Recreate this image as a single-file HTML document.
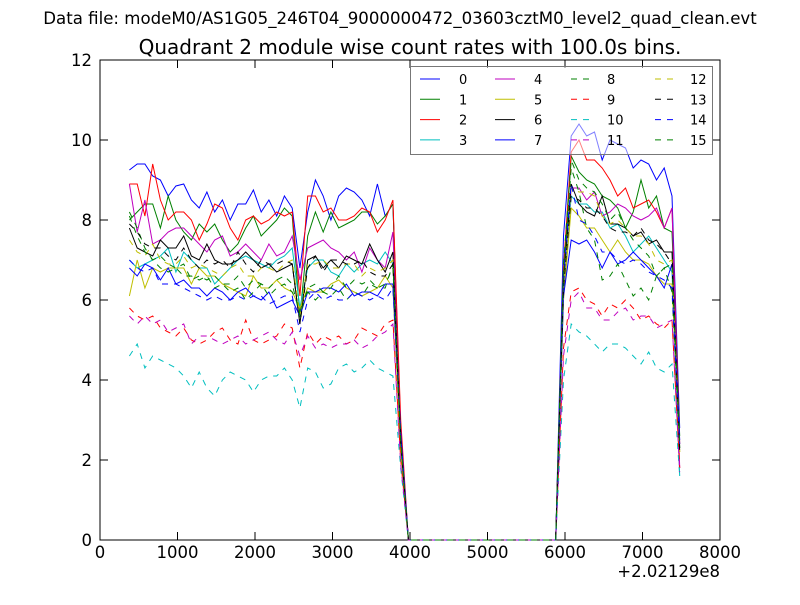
<!DOCTYPE html>
<html><head><meta charset="utf-8"><style>
body{margin:0;background:#fff;}
svg text{font-family:"DejaVu Sans","Liberation Sans",sans-serif;}
</style></head><body>
<svg id="chart" width="800" height="600" xmlns="http://www.w3.org/2000/svg">
<rect width="800" height="600" fill="#fff"/>
<text x="400" y="24" text-anchor="middle" font-size="16.6">Data file: modeM0/AS1G05_246T04_9000000472_03603cztM0_level2_quad_clean.evt</text>
<text x="410" y="54" text-anchor="middle" font-size="20">Quadrant 2 module wise count rates with 100.0s bins.</text>
<rect x="100" y="60" width="620" height="480" fill="none" stroke="#000" stroke-width="1"/>
<g id="series"></g>
<g id="axes"></g>
<g id="legend"></g>
</svg>
<script>
const xTicks=[0,1000,2000,3000,4000,5000,6000,7000,8000];
const yTicks=[0,2,4,6,8,10,12];
const seg1Start=380, seg2Start=6080, binSize=100;
const s1=[
[9.25,9.4,9.4,9.1,9.0,8.6,8.85,8.9,8.5,8.3,8.7,8.2,8.5,8.0,8.4,8.4,8.75,8.2,8.5,8.1,8.6,8.3,6.8,8.2,9.0,8.6,8.0,8.6,8.8,8.7,8.5,8.1,8.9,8.1,8.4],
[8.0,8.2,8.4,8.4,7.8,8.6,8.0,7.7,7.5,7.9,7.7,7.9,7.5,7.2,7.4,7.8,8.1,7.6,7.8,8.0,8.3,8.1,5.6,7.6,8.2,7.7,8.2,7.8,7.9,8.0,8.2,8.2,7.9,8.1,8.4],
[8.9,8.9,8.1,9.4,8.5,8.0,8.2,8.2,8.0,7.5,7.9,8.4,8.3,7.8,7.5,8.0,8.1,7.9,8.0,8.2,8.1,8.2,6.1,8.6,8.6,8.2,8.3,8.0,8.0,8.1,8.3,8.2,7.7,8.0,8.5],
[7.0,6.8,6.9,7.0,7.1,7.3,6.7,7.2,7.0,6.8,6.8,6.4,6.6,6.8,7.0,7.1,7.0,6.9,6.8,7.0,7.1,7.3,5.8,6.8,7.0,7.0,6.7,6.6,6.9,6.7,6.9,7.0,6.9,7.2,6.9],
[8.9,7.7,8.5,7.4,7.5,7.7,7.8,7.8,7.6,7.4,7.2,7.5,7.6,7.1,7.2,7.4,7.2,7.0,7.4,7.1,7.2,7.6,6.5,7.3,7.4,7.5,7.3,7.2,7.0,7.2,6.7,7.3,7.0,6.8,7.7],
[6.1,7.0,6.3,6.8,6.7,6.8,6.8,6.8,6.4,6.8,6.6,6.6,6.4,6.3,6.2,6.1,6.6,6.3,6.3,6.5,6.3,6.2,5.8,6.3,6.2,6.2,6.4,6.5,6.3,6.2,6.1,6.2,6.3,6.6,6.3],
[7.8,7.3,7.2,7.1,7.5,7.3,7.3,7.6,7.1,7.0,7.4,7.0,6.9,6.9,7.0,7.2,7.0,6.8,6.9,6.7,6.8,6.9,5.4,7.0,7.1,6.8,7.0,6.8,7.1,7.0,6.9,7.4,7.0,6.7,7.2],
[6.8,6.6,6.9,6.8,6.5,6.8,6.4,6.5,6.3,6.3,6.1,6.3,6.2,6.0,6.2,6.3,6.1,6.0,6.2,5.8,5.9,6.0,5.6,6.2,6.2,6.3,6.3,6.2,6.4,6.1,6.2,6.2,6.1,6.4,6.4],
[8.2,7.8,7.3,7.0,6.8,6.7,6.8,6.6,6.6,6.5,6.6,6.3,6.4,6.2,6.3,6.0,6.2,6.4,6.1,6.3,6.4,6.2,5.8,6.2,6.0,6.2,6.1,6.3,6.0,6.2,6.1,6.4,6.3,6.3,6.9],
[5.8,5.6,5.5,5.6,5.3,5.2,5.1,5.3,5.0,4.9,5.0,5.2,5.3,5.0,4.9,5.5,5.0,4.9,5.0,5.1,5.4,5.3,4.3,5.2,4.9,5.1,5.0,5.1,4.9,5.0,5.3,5.2,5.1,5.4,5.5],
[4.6,4.9,4.3,4.6,4.5,4.4,4.3,4.1,3.8,4.2,3.8,3.6,4.0,4.2,4.1,4.0,3.7,4.0,4.1,4.1,4.3,4.0,3.3,4.3,4.2,3.8,3.9,4.3,4.4,4.2,4.3,4.5,4.3,4.2,4.1],
[5.6,5.4,5.6,5.4,5.5,5.2,5.3,5.4,4.9,5.1,5.1,5.0,4.9,5.0,5.1,4.9,5.0,5.1,5.2,5.0,4.9,5.2,4.6,5.1,4.8,4.9,4.8,4.9,4.9,5.0,4.8,4.9,5.1,5.2,5.4],
[7.5,7.2,7.1,7.4,7.0,6.9,6.9,7.1,6.8,6.9,6.8,6.7,6.6,6.8,6.9,6.6,6.6,6.8,6.8,6.7,6.9,7.0,5.6,6.9,6.9,7.0,6.8,6.8,6.9,6.9,6.6,6.8,6.7,6.8,7.0],
[7.9,7.7,7.4,7.3,7.3,7.1,7.0,7.3,7.0,6.8,7.0,6.9,7.0,6.8,7.2,6.9,6.7,7.0,6.9,6.9,7.0,6.9,5.4,6.8,7.1,6.7,7.0,7.0,6.9,6.9,7.0,6.7,6.6,6.6,6.9],
[7.0,6.8,6.7,6.8,6.4,6.4,6.4,6.3,6.2,6.1,6.0,6.1,6.0,6.0,6.1,6.0,6.1,6.1,5.9,6.0,6.1,6.1,5.2,6.0,6.2,6.0,6.1,6.0,6.0,6.2,6.1,6.0,6.1,6.0,6.3],
[8.1,7.6,7.2,7.0,7.1,6.9,6.8,6.9,6.5,6.6,6.5,6.6,6.4,6.4,6.6,6.3,6.5,6.4,6.3,6.5,6.6,6.4,5.6,6.3,6.4,6.2,6.3,6.6,6.3,6.5,6.4,6.5,6.3,6.4,6.8]
];
const s2=[
[10.1,10.4,10.1,10.2,9.5,10.0,9.9,9.8,9.3,9.5,9.4,9.0,9.3,8.6],
[9.6,9.2,9.0,8.9,8.6,8.5,8.3,7.8,8.2,9.0,8.3,8.6,7.8,7.7],
[9.7,10.0,9.5,9.5,9.3,9.0,8.6,8.8,8.3,8.4,8.5,8.2,7.8,8.3],
[8.6,8.4,8.4,8.2,8.2,7.8,7.9,7.6,7.2,7.4,7.6,7.3,7.0,6.7],
[8.8,8.8,8.5,8.7,8.1,8.2,8.4,8.3,8.1,8.0,8.1,8.3,7.8,8.3],
[8.3,8.1,7.8,7.8,7.5,7.2,7.5,7.2,7.0,7.0,6.9,6.6,6.4,6.4],
[8.9,8.4,8.2,8.1,8.6,7.9,7.9,7.8,7.6,7.7,7.4,7.5,7.2,7.2],
[7.5,7.4,7.5,7.2,6.8,7.2,6.9,7.0,7.2,7.0,6.8,6.6,6.3,6.9],
[9.3,8.7,7.8,7.5,6.5,6.6,6.9,6.5,6.1,6.3,6.0,6.6,6.8,6.2],
[6.2,6.3,6.0,5.9,5.6,5.9,5.8,6.0,5.8,5.5,5.6,5.4,5.3,5.5],
[5.4,5.2,5.1,4.9,4.7,4.9,4.9,4.8,4.6,4.4,4.7,4.3,4.2,4.4],
[6.0,6.2,5.8,5.8,5.5,5.5,5.7,5.8,5.5,5.6,5.6,5.3,5.4,5.5],
[8.8,8.7,8.7,8.6,8.1,7.9,8.0,7.8,7.6,7.6,7.4,7.0,6.9,7.0],
[8.6,8.5,8.3,8.3,8.1,7.8,7.7,7.7,7.6,7.8,7.5,7.4,7.2,6.9],
[8.9,8.0,7.9,7.6,7.2,7.2,7.0,6.9,7.0,6.9,6.7,6.6,6.5,6.3],
[9.5,9.0,8.8,8.7,8.4,8.0,8.2,7.8,7.5,7.3,7.1,6.6,6.8,6.9]
];
const dropVals=[2.8,2.6,3.0,2.4,2.6,2.3,2.5,2.7,2.4,2.0,1.8,1.9,2.4,2.5,2.6,2.5];
const riseVals=[7.6,6.6,6.8,6.2,6.4,6.0,6.5,6.1,6.6,4.8,4.0,4.6,6.4,6.3,6.7,6.9];
const endVals=[2.8,2.6,2.4,1.6,1.8,2.2,2.3,2.5,2.3,1.8,1.6,1.7,2.2,2.2,2.4,2.4];
const colors=['#0000ff','#008000','#ff0000','#00bfbf','#bf00bf','#bfbf00','#000000'];
const NS="http://www.w3.org/2000/svg";
const X=v=>100+v*620/8000, Y=v=>540-v*480/12;
const sg=document.getElementById('series');
for(let i=0;i<16;i++){
  const xs=[],ys=[];
  s1[i].forEach((v,k)=>{xs.push(seg1Start+k*binSize);ys.push(v);});
  const last1=seg1Start+(s1[i].length-1)*binSize;
  xs.push(last1+100);ys.push(dropVals[i]);
  xs.push(last1+200);ys.push(0);
  xs.push(seg2Start-200);ys.push(0);
  xs.push(seg2Start-100);ys.push(riseVals[i]);
  s2[i].forEach((v,k)=>{xs.push(seg2Start+k*binSize);ys.push(v);});
  xs.push(seg2Start+s2[i].length*binSize);ys.push(endVals[i]);
  const p=document.createElementNS(NS,'polyline');
  p.setAttribute('points',xs.map((x,k)=>X(x).toFixed(1)+','+Y(ys[k]).toFixed(1)).join(' '));
  p.setAttribute('fill','none');
  p.setAttribute('stroke',colors[i%7]);
  p.setAttribute('stroke-width','1');
  if(i>=8)p.setAttribute('stroke-dasharray','6,6');
  
  
  sg.appendChild(p);
}
const ax=document.getElementById('axes');
xTicks.forEach(t=>{
  const x=X(t);
  const l=document.createElementNS(NS,'path');
  l.setAttribute('d',`M${x},540V532M${x},60V68`);l.setAttribute('stroke','#000');
  
  
  ax.appendChild(l);
  const tx=document.createElementNS(NS,'text');
  tx.setAttribute('x',x);tx.setAttribute('y',558);tx.setAttribute('text-anchor','middle');tx.setAttribute('font-size','16.5');
  tx.textContent=t;
  
  
  ax.appendChild(tx);
});
yTicks.forEach(t=>{
  const y=Y(t);
  const l=document.createElementNS(NS,'path');
  l.setAttribute('d',`M100,${y}H108M720,${y}H712`);l.setAttribute('stroke','#000');
  
  
  ax.appendChild(l);
  const tx=document.createElementNS(NS,'text');
  tx.setAttribute('x',92);tx.setAttribute('y',y+6);tx.setAttribute('text-anchor','end');tx.setAttribute('font-size','16.5');
  tx.textContent=t;
  
  
  ax.appendChild(tx);
});
const off=document.createElementNS(NS,'text');
off.setAttribute('x',720);off.setAttribute('y',577);off.setAttribute('text-anchor','end');off.setAttribute('font-size','16.5');
off.textContent='+2.02129e8';


ax.appendChild(off);
const lg=document.getElementById('legend');
const box=document.createElementNS(NS,'rect');
box.setAttribute('x',410.5);box.setAttribute('y',66.5);box.setAttribute('width',302);box.setAttribute('height',88);
box.setAttribute('fill','#fff');box.setAttribute('fill-opacity','0.5');box.setAttribute('stroke','#777');


lg.appendChild(box);
const colX=[420,495,571,655];
for(let i=0;i<16;i++){
  const c=Math.floor(i/4),r=i%4,y=79+r*20.3,x=colX[c];
  const l=document.createElementNS(NS,'line');
  l.setAttribute('x1',x);l.setAttribute('x2',x+20);l.setAttribute('y1',y);l.setAttribute('y2',y);
  l.setAttribute('stroke',colors[i%7]);
  if(i>=8)l.setAttribute('stroke-dasharray','6,6');
  
  
  lg.appendChild(l);
  const t=document.createElementNS(NS,'text');
  t.setAttribute('x',x+(c===3?35:c===2?36:39));t.setAttribute('y',y+5);t.setAttribute('font-size','13');
  t.textContent=i;
  
  
  lg.appendChild(t);
}
</script>
</body></html>
